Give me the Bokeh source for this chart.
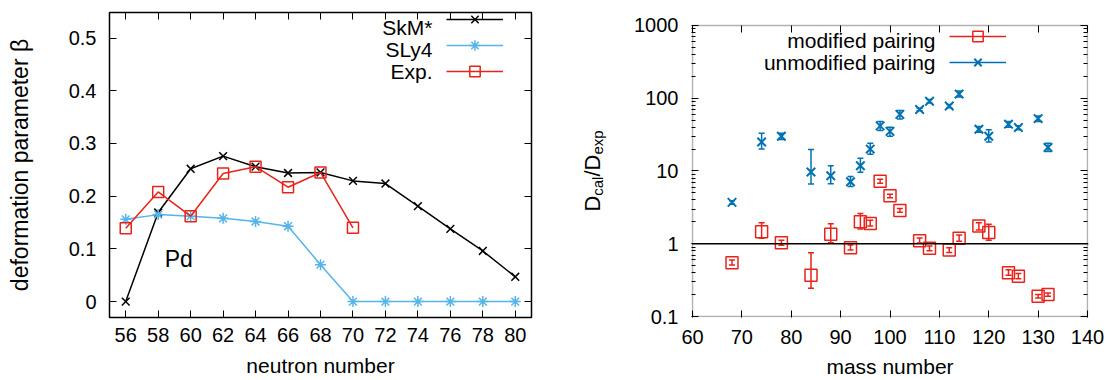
import math
from bokeh.plotting import figure
from bokeh.layouts import row
from bokeh.models import (ColumnDataSource, Range1d, LinearAxis, FixedTicker, Legend, BoxAnnotation,
                          LegendItem, Label, Span, Whisker, TeeHead, CustomJSTickFormatter)
from bokeh.embed import file_html
from bokeh.resources import INLINE

FONT = "Liberation Sans"

# ---------------- data: left panel (Pd isotopes) ----------------
neutron = [56, 58, 60, 62, 64, 66, 68, 70, 72, 74, 76, 78, 80]
beta_skm = [0.000, 0.169, 0.252, 0.276, 0.256, 0.244, 0.245, 0.229, 0.224, 0.181, 0.138, 0.096, 0.047]
beta_sly4 = [0.156, 0.165, 0.162, 0.158, 0.152, 0.143, 0.070, 0.0, 0.0, 0.0, 0.0, 0.0, 0.0]
exp_neutron = [56, 58, 60, 62, 64, 66, 68, 70]
beta_exp = [0.139, 0.208, 0.162, 0.243, 0.256, 0.217, 0.245, 0.140]
left_xticks = [56, 58, 60, 62, 64, 66, 68, 70, 72, 74, 76, 78, 80]
left_yticks = [0, 0.1, 0.2, 0.3, 0.4, 0.5]
left_legend = ["SkM*", "SLy4", "Exp."]
element_label = "Pd"
element_pos = (59.27, 0.057)

# ---------------- data: right panel (D_cal / D_exp) ----------------
mass = [68, 74, 78, 84, 88, 92, 94, 96, 98, 100, 102, 106, 108, 112, 114, 118, 120, 124, 126, 130, 132]
mod_val = [0.55, 1.46, 1.03, 0.37, 1.35, 0.88, 2.0, 1.9, 7.2, 4.55, 2.87, 1.1, 0.865, 0.82, 1.19, 1.75, 1.43, 0.40, 0.357, 0.19, 0.20]
mod_lo = [0.51, 1.19, 0.95, 0.244, 1.03, 0.82, 1.6, 1.75, 6.8, 4.3, 2.7, 1.02, 0.80, 0.76, 1.08, 1.55, 1.12, 0.37, 0.33, 0.18, 0.19]
mod_hi = [0.60, 1.94, 1.12, 0.75, 1.88, 0.96, 2.6, 2.1, 7.7, 4.8, 3.05, 1.2, 0.93, 0.88, 1.32, 1.95, 1.85, 0.44, 0.39, 0.20, 0.21]
unmod_val = [3.7, 25, 30, 9.7, 8.6, 7.1, 11.8, 20, 41.7, 35, 60, 70, 91, 78, 114, 37.4, 30, 44, 39.5, 52.5, 21]
unmod_lo = [3.5, 20, 27, 6.6, 6.7, 6.1, 9.6, 17, 36, 30, 52, 67, 86, 74, 104, 34, 25, 40, 37, 48, 18.5]
unmod_hi = [3.9, 33, 33, 19.7, 11.8, 8.4, 15, 24, 48, 40, 68, 73, 96, 82, 126, 41, 37, 48, 42, 57, 24]
right_xticks = [60, 70, 80, 90, 100, 110, 120, 130, 140]
right_yticks = [0.1, 1, 10, 100, 1000]
right_yminor = [m * 10.0 ** k for k in range(-1, 3) for m in range(2, 10)]
right_legend = ["modified pairing", "unmodified pairing"]
ref_ratio = 1
right_x_bounds = (60, 140)
right_y_bounds = (0.1, 1000)

BLACK = "#000000"
SLY_BLUE = "#56B4E9"
RED = "#E8231A"
DARK_BLUE = "#0072B2"

# ---------------- layout (pixels) ----------------
H = 380
FRAME_TOP, FRAME_BOTTOM = 12, 318          # frames of plots in a row are aligned
W1, WL, W2 = 576, 36, 499
# left panel: px per unit in y, y=0 at 302 px
L_PPU = 528.6
L_Y0 = 302
left_y_range = (-(FRAME_BOTTOM - L_Y0) / L_PPU, 0.5 + (L_Y0 - 0.5 * L_PPU - FRAME_TOP) / L_PPU)
# right panel: 73 px per decade, 1000 at y=25, 0.1 at y=317; 4.9375 px per unit in x
R_PPD = 73.0
R_PPX = 4.9375
right_y_range = (right_y_bounds[0] * 10 ** (-(FRAME_BOTTOM - 317) / R_PPD),
                 right_y_bounds[1] * 10 ** ((25 - FRAME_TOP) / R_PPD))
right_x_range = (right_x_bounds[0] - 1 / R_PPX, right_x_bounds[1] + 1 / R_PPX)


def style_axis(ax, label_standoff=12):
    ax.axis_line_color = None
    ax.major_tick_in = 7
    ax.major_tick_out = 0
    ax.minor_tick_in = 0
    ax.minor_tick_out = 0
    ax.major_tick_line_color = BLACK
    ax.major_tick_line_width = 1
    ax.major_label_text_font = FONT
    ax.major_label_text_font_size = "20px"
    ax.major_label_text_color = BLACK
    ax.major_label_standoff = label_standoff
    ax.axis_label_text_font = FONT
    ax.axis_label_text_font_size = "21px"
    ax.axis_label_text_font_style = "normal"
    ax.axis_label_text_color = BLACK


def mirror_axis(ticks, loc, minor=None):
    ax = LinearAxis(ticker=FixedTicker(ticks=ticks, minor_ticks=minor or []),
                    formatter=CustomJSTickFormatter(code="return ''"), fixed_location=loc)
    ax.axis_line_color = None
    ax.major_tick_in = 7
    ax.major_tick_out = 0
    ax.minor_tick_in = 4 if minor else 0
    ax.minor_tick_out = 0
    ax.major_tick_line_color = BLACK
    ax.minor_tick_line_color = BLACK
    ax.major_label_standoff = 0
    ax.major_label_text_font_size = "0px"
    return ax


def text_legend(p, names, x_right, y_rows):
    for name, yy in zip(names, y_rows):
        p.add_layout(Label(x=x_right, y=yy, x_units="screen", y_units="screen", text=name,
                           text_align="right", text_baseline="middle", text_font=FONT,
                           text_font_size="21px", text_color=BLACK))


# ================= left panel =================
p1 = figure(width=W1, height=H, x_range=Range1d(55, 81), y_range=Range1d(*left_y_range),
            output_backend="svg", toolbar_location=None,
            min_border_left=109, min_border_right=W1 - 109 - 422, min_border_top=FRAME_TOP,
            min_border_bottom=H - FRAME_BOTTOM)
p1.title.visible = False
p1.grid.visible = False
p1.outline_line_color = BLACK
p1.outline_line_width = 1.5

p1.xaxis.ticker = FixedTicker(ticks=left_xticks)
p1.yaxis.ticker = FixedTicker(ticks=left_yticks)
p1.yaxis.formatter = CustomJSTickFormatter(code="return tick == 0 ? '0' : tick.toFixed(1)")
style_axis(p1.xaxis[0], 10)
style_axis(p1.yaxis[0], 13)
p1.xaxis.axis_label = "neutron number"
p1.xaxis.axis_label_standoff = 9
p1.yaxis.axis_label = "deformation parameter β"
p1.yaxis.axis_label_text_font_size = "23px"
p1.yaxis.axis_label_standoff = 33
p1.add_layout(mirror_axis(left_xticks, left_y_range[1]), "above")
p1.add_layout(mirror_axis(left_yticks, 81), "right")

l_skm = p1.line(neutron, beta_skm, line_color=BLACK, line_width=1.5)
s_skm = p1.scatter(neutron, beta_skm, marker="x", size=11, line_color=BLACK, line_width=1.5)
l_sly = p1.line(neutron, beta_sly4, line_color=SLY_BLUE, line_width=1.5)
s_sly = p1.scatter(neutron, beta_sly4, marker="asterisk", size=11, line_color=SLY_BLUE, line_width=1.5)
l_exp = p1.line(exp_neutron, beta_exp, line_color=RED, line_width=1.5)
s_exp = p1.scatter(exp_neutron, beta_exp, marker="square", size=11, line_color=RED,
                   fill_color=None, line_width=1.5)

p1.add_layout(Label(x=element_pos[0], y=element_pos[1], text=element_label, text_align="center",
                    text_font=FONT, text_font_size="23px", text_color=BLACK))

leg1 = Legend(items=[LegendItem(label=" ", renderers=[l_skm, s_skm]),
                     LegendItem(label=" ", renderers=[l_sly, s_sly]),
                     LegendItem(label=" ", renderers=[l_exp, s_exp])],
              location=(337, FRAME_BOTTOM - 85), glyph_width=57, glyph_height=26, spacing=-4,
              padding=0, margin=0, label_standoff=0, label_width=0, label_height=0,
              label_text_font_size="1px", border_line_color=None, background_fill_alpha=0)
p1.add_layout(leg1)
text_legend(p1, left_legend, 323, [FRAME_BOTTOM - 28, FRAME_BOTTOM - 50, FRAME_BOTTOM - 72])

# ================= label strip for the right y-axis title =================
pl = figure(width=WL, height=H, x_range=Range1d(0, 1), y_range=Range1d(0, 1),
            output_backend="svg", toolbar_location=None, min_border=0,
            x_axis_location=None, y_axis_location=None)
pl.title.visible = False
pl.grid.visible = False
pl.outline_line_color = None
main_fs, sub_fs = 22, 15
pieces = [("D", main_fs, 0.722 * main_fs, 0), ("cal", sub_fs, 1.278 * sub_fs, 5),
          ("/", main_fs, 0.278 * main_fs, 0), ("D", main_fs, 0.722 * main_fs, 0),
          ("exp", sub_fs, 1.612 * sub_fs, 5)]
total = sum(pc[2] for pc in pieces)
ypos = (FRAME_BOTTOM - 171.5) - total / 2
for txt, fs, w, sub in pieces:
    pl.add_layout(Label(x=16 + sub, y=ypos, x_units="screen", y_units="screen", text=txt,
                        angle=math.pi / 2, text_align="left", text_baseline="alphabetic",
                        text_font=FONT, text_font_size=f"{fs}px", text_color=BLACK))
    ypos += w

# ================= right panel =================
R_LEFT = 691 - W1 - WL
p2 = figure(width=W2, height=H, x_range=Range1d(*right_x_range), y_range=Range1d(*right_y_range),
            y_axis_type="log", output_backend="svg", toolbar_location=None,
            min_border_left=R_LEFT, min_border_right=W2 - R_LEFT - 397, min_border_top=FRAME_TOP,
            min_border_bottom=H - FRAME_BOTTOM)
p2.title.visible = False
p2.grid.visible = False
p2.outline_line_color = None
p2.add_layout(BoxAnnotation(left=right_x_bounds[0], right=right_x_bounds[1],
                            bottom=right_y_bounds[0], top=right_y_bounds[1],
                            fill_color=None, fill_alpha=0, line_color=BLACK, line_width=1.5))

p2.xaxis.ticker = FixedTicker(ticks=right_xticks)
p2.yaxis.ticker = FixedTicker(ticks=right_yticks, minor_ticks=right_yminor)
p2.yaxis.formatter = CustomJSTickFormatter(code="return tick.toString()")
style_axis(p2.xaxis[0], 12)
style_axis(p2.yaxis[0], 13)
p2.yaxis.minor_tick_in = 4
p2.yaxis.minor_tick_line_color = BLACK
p2.xaxis.axis_label = "mass number"
p2.xaxis.axis_label_standoff = 8
p2.add_layout(mirror_axis(right_xticks, right_y_bounds[1]), "above")
p2.add_layout(mirror_axis(right_yticks, right_x_bounds[1], right_yminor), "right")

p2.add_layout(Span(location=ref_ratio, dimension="width", line_color=BLACK, line_width=1.5))

src_mod = ColumnDataSource(dict(x=mass, y=mod_val, lo=mod_lo, hi=mod_hi))
src_unm = ColumnDataSource(dict(x=mass, y=unmod_val, lo=unmod_lo, hi=unmod_hi))

seg_m = p2.segment(x0="x", y0="lo", x1="x", y1="hi", source=src_mod, line_color=RED, line_width=1.5)
p2.add_layout(Whisker(base="x", lower="lo", upper="hi", source=src_mod, dimension="height", line_alpha=0,
                      upper_head=TeeHead(size=6, line_color=RED, line_width=1.5),
                      lower_head=TeeHead(size=6, line_color=RED, line_width=1.5)))
sc_m = p2.scatter(x="x", y="y", source=src_mod, marker="square", size=12, line_color=RED,
                  fill_color=None, line_width=1.5)

seg_u = p2.segment(x0="x", y0="lo", x1="x", y1="hi", source=src_unm, line_color=DARK_BLUE, line_width=1.5)
p2.add_layout(Whisker(base="x", lower="lo", upper="hi", source=src_unm, dimension="height", line_alpha=0,
                      upper_head=TeeHead(size=6, line_color=DARK_BLUE, line_width=1.5),
                      lower_head=TeeHead(size=6, line_color=DARK_BLUE, line_width=1.5)))
sc_u = p2.scatter(x="x", y="y", source=src_unm, marker="x", size=12, line_color=DARK_BLUE, line_width=2)

leg2 = Legend(items=[LegendItem(label=" ", renderers=[seg_m, sc_m]),
                     LegendItem(label=" ", renderers=[seg_u, sc_u])],
              location=(258, FRAME_BOTTOM - 76), glyph_width=57, glyph_height=26, spacing=-4,
              padding=0, margin=0, label_standoff=0, label_width=0, label_height=0,
              label_text_font_size="1px", border_line_color=None, background_fill_alpha=0)
p2.add_layout(leg2)
text_legend(p2, right_legend, 244, [FRAME_BOTTOM - 41, FRAME_BOTTOM - 63])

layout = row(p1, pl, p2)
open("out.html", "w").write(file_html(layout, INLINE))
